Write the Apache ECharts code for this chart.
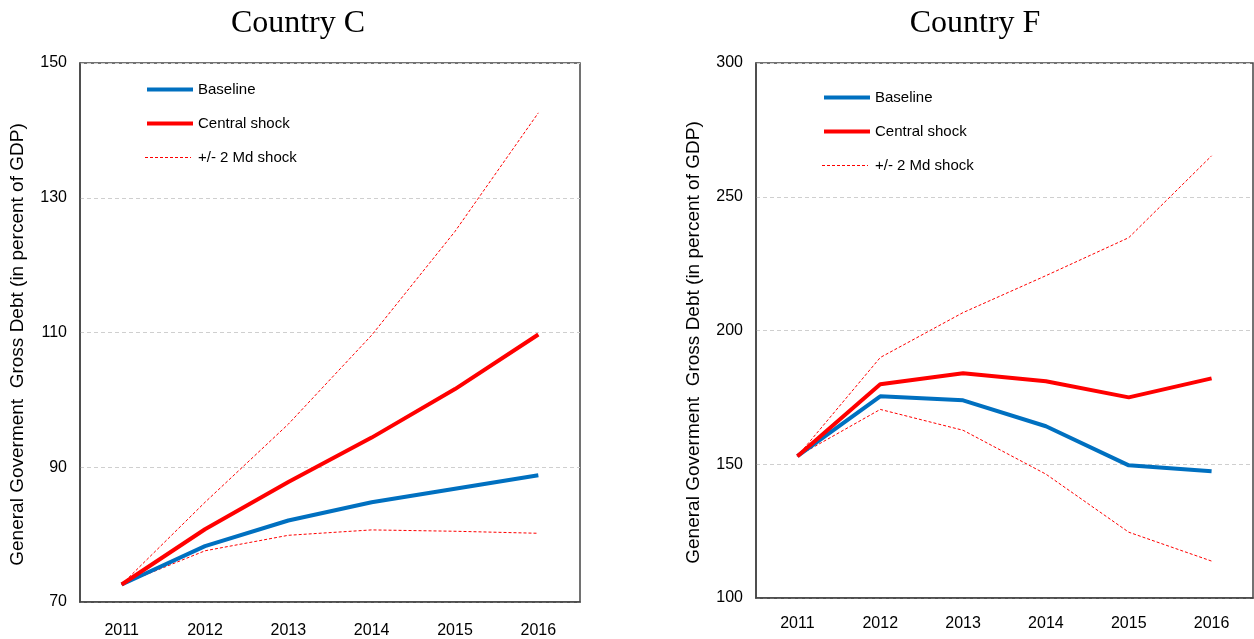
<html>
<head>
<meta charset="utf-8">
<script src="https://cdn.jsdelivr.net/npm/echarts@6/dist/echarts.min.js"></script>
<style>
  html, body { margin: 0; padding: 0; background: #fff; }
  #main { width: 1254px; height: 639px; }
</style>
</head>
<body>
<div id="main"></div>
<script>
var years = ['2011', '2012', '2013', '2014', '2015', '2016'];

// Country C
var cBaseline = [72.6, 78.3, 82.1, 84.8, 86.8, 88.8];
var cCentral = [72.6, 80.8, 87.8, 94.4, 101.6, 109.7];
var cUpper = [72.6, 84.8, 96.4, 109.6, 125.0, 142.6];
var cLower = [72.6, 77.6, 79.9, 80.7, 80.5, 80.2];

// Country F
var fBaseline = [153, 175.4, 173.9, 164.2, 149.6, 147.4];
var fCentral = [153, 179.9, 184.0, 181.0, 175.0, 182.1];
var fUpper = [153, 189.9, 206.7, 220.5, 234.7, 265.3];
var fLower = [153, 170.5, 162.7, 146.3, 124.6, 113.8];

var blue = '#0070C0';
var red = '#FF0000';
var font = 'Liberation Sans, Arial, sans-serif';
var yName = 'General Goverment  Gross Debt (in percent of GDP)';

var chart = echarts.init(document.getElementById('main'));

function xAxis(idx, margin) {
    return {
        type: 'category',
        gridIndex: idx,
        data: years,
        boundaryGap: true,
        axisLine: { lineStyle: { color: '#444', width: 1.5 } },
        axisTick: { show: false },
        axisLabel: { color: '#000', fontSize: 16, fontFamily: font, margin: margin }
    };
}

function yAxis(idx, min, max, step) {
    return {
        type: 'value',
        gridIndex: idx,
        min: min,
        max: max,
        interval: step,
        name: yName,
        nameLocation: 'middle',
        nameRotate: 90,
        nameGap: 53,
        nameTextStyle: { color: '#000', fontSize: 19, fontFamily: font, padding: [0, 24, 0, 0] },
        axisLine: { show: true, lineStyle: { color: '#444', width: 1.5 } },
        axisTick: { show: false },
        axisLabel: { color: '#000', fontSize: 16, fontFamily: font, margin: 13 },
        splitLine: { show: true, lineStyle: { color: '#cfcfcf', type: [4, 3] } }
    };
}

function lines(idx, base, central, upper, lower) {
    var common = { type: 'line', xAxisIndex: idx, yAxisIndex: idx, symbol: 'none', animation: false };
    return [
        Object.assign({}, common, { name: 'Baseline', data: base, z: 4,
            color: blue, lineStyle: { color: blue, width: 4 } }),
        Object.assign({}, common, { name: 'Central shock', data: central, z: 5,
            color: red, lineStyle: { color: red, width: 4 } }),
        Object.assign({}, common, { name: '+/- 2 Md shock', data: upper, z: 3,
            color: red, lineStyle: { color: red, width: 1, type: [3, 2] } }),
        Object.assign({}, common, { name: '+/- 2 Md shock', data: lower, z: 3,
            color: red, lineStyle: { color: red, width: 1, type: [3, 2] } })
    ];
}

function legend(left, top) {
    return {
        orient: 'vertical',
        left: left,
        top: top,
        itemWidth: 46,
        itemHeight: 15,
        itemGap: 19,
        selectedMode: false,
        textStyle: { color: '#000', fontSize: 15, fontFamily: font },
        itemStyle: { opacity: 0 },
        data: [
            { name: 'Baseline', lineStyle: { width: 4, color: blue } },
            { name: 'Central shock', lineStyle: { width: 4, color: red } },
            { name: '+/- 2 Md shock', lineStyle: { opacity: 0, width: 0 } }
        ]
    };
}

// the dotted key mark, drawn beside the legend's third entry
// (legend left + 5 padding, top + 5 padding + 2 rows of 34 + half an item)
function dashKey(left, top) {
    var x = left + 5;
    var y = top + 5 + 68 + 7.5;
    return {
        type: 'line',
        z: 100,
        shape: { x1: x, y1: y, x2: x + 46, y2: y },
        style: { stroke: red, lineWidth: 1, lineDash: [3, 2] },
        silent: true
    };
}

var titleStyle = { fontFamily: 'Liberation Serif, Times New Roman, serif', fontSize: 32, fontWeight: 'normal', color: '#000' };

chart.setOption({
    animation: false,
    backgroundColor: '#fff',
    title: [
        { text: 'Country C', left: 293, top: 3, textAlign: 'center', textStyle: titleStyle },
        { text: 'Country F', left: 970, top: 3, textAlign: 'center', textStyle: titleStyle }
    ],
    legend: [legend(140, 77), legend(817, 85)],
    graphic: [dashKey(140, 77), dashKey(817, 85)],
    grid: [
        { left: 80, top: 63, width: 500, height: 540, show: true, borderColor: '#444', borderWidth: 1.5 },
        { left: 756, top: 63, width: 497, height: 535, show: true, borderColor: '#444', borderWidth: 1.5 }
    ],
    xAxis: [xAxis(0, 21), xAxis(1, 18)],
    yAxis: [yAxis(0, 70, 150, 20), yAxis(1, 100, 300, 50)],
    series: lines(0, cBaseline, cCentral, cUpper, cLower)
        .concat(lines(1, fBaseline, fCentral, fUpper, fLower))
});
</script>
</body>
</html>
